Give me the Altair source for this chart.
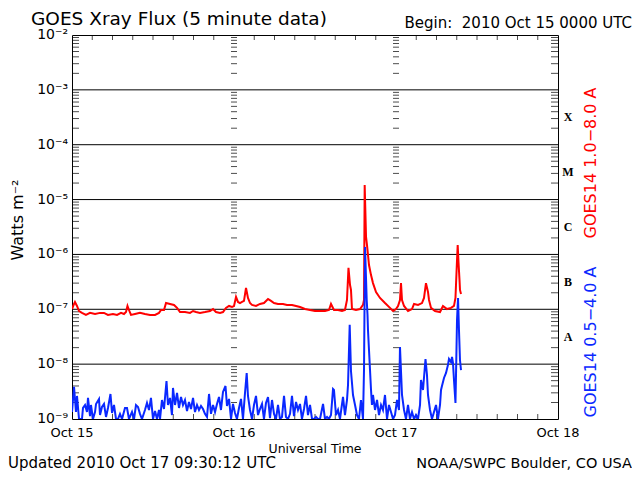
import altair as alt
import pandas as pd

# ---------------- data (hours since 2010 Oct 15 00:00 UTC, W/m^2)
red_hours = [0.00, 0.30, 0.44, 0.74, 1.04, 1.48, 2.07, 2.67, 3.41, 4.15, 4.74, 5.33, 6.07, 6.67,
             7.26, 7.70, 8.00, 8.22, 8.44, 8.74, 9.33, 10.07, 10.81, 11.56, 12.30, 12.89, 13.19,
             13.63, 13.93, 14.52, 15.11, 15.56, 16.00, 16.74, 17.48, 17.93, 18.37, 18.96, 19.70,
             20.44, 20.89, 21.33, 21.93, 22.37, 22.81, 23.26, 23.70, 24.00, 24.30, 24.59, 24.89,
             25.19, 25.48, 25.78, 26.07, 26.37, 26.67, 27.26, 27.85, 28.44, 29.04, 29.48, 29.93,
             30.52, 31.26, 31.85, 32.59, 33.19, 33.78, 34.52, 35.26, 36.00, 36.74, 37.48, 38.07,
             38.37, 38.81, 39.41, 40.00, 40.44, 40.74, 40.96, 41.19, 41.33, 41.48, 42.07, 42.67,
             43.11, 43.26, 43.36, 43.56, 43.70, 43.85, 44.00, 44.30, 44.59, 45.04, 45.63, 46.37,
             47.11, 47.56, 48.00, 48.30, 48.59, 48.74, 48.89, 49.19, 49.78, 50.37, 50.67, 51.26,
             51.85, 52.15, 52.44, 52.74, 52.89, 53.19, 53.78, 54.52, 54.96, 55.56, 56.15, 56.59,
             56.81, 57.04, 57.14, 57.26, 57.41, 57.48, 57.63]
red_flux = [1.01e-7, 1.25e-7, 1.36e-7, 1.15e-7, 9.3e-8, 8.6e-8, 7.9e-8, 8.6e-8, 8.2e-8, 8.6e-8,
            8.6e-8, 7.9e-8, 8.2e-8, 7.9e-8, 8.6e-8, 8.2e-8, 8.9e-8, 1.15e-7, 9.7e-8, 7.9e-8,
            8.2e-8, 8.6e-8, 8.2e-8, 7.9e-8, 7.9e-8, 8.6e-8, 9.7e-8, 9.7e-8, 1.30e-7, 1.25e-7,
            1.20e-7, 1.06e-7, 8.9e-8, 8.9e-8, 8.6e-8, 9.3e-8, 8.9e-8, 8.6e-8, 8.9e-8, 9.3e-8,
            1.01e-7, 8.9e-8, 8.6e-8, 8.9e-8, 1.06e-7, 1.15e-7, 1.10e-7, 1.15e-7, 1.68e-7, 1.36e-7,
            1.30e-7, 1.36e-7, 1.42e-7, 2.45e-7, 1.61e-7, 1.30e-7, 1.20e-7, 1.15e-7, 1.25e-7,
            1.30e-7, 1.54e-7, 1.42e-7, 1.30e-7, 1.25e-7, 1.25e-7, 1.20e-7, 1.20e-7, 1.15e-7,
            1.10e-7, 1.01e-7, 9.7e-8, 9.3e-8, 9.3e-8, 9.3e-8, 9.7e-8, 1.25e-7, 9.7e-8, 9.7e-8,
            9.3e-8, 9.7e-8, 1.48e-7, 5.7e-7, 2.77e-7, 2.25e-7, 1.01e-7, 9.7e-8, 1.01e-7, 1.20e-7,
            1.48e-7, 1.85e-5, 2.1e-6, 1.49e-6, 9.8e-7, 6.4e-7, 4.2e-7, 3.0e-7, 2.07e-7, 1.61e-7,
            1.30e-7, 1.06e-7, 9.3e-8, 1.01e-7, 1.15e-7, 1.48e-7, 3.0e-7, 1.48e-7, 1.15e-7, 9.3e-8,
            1.01e-7, 1.25e-7, 1.20e-7, 1.30e-7, 1.61e-7, 3.0e-7, 2.07e-7, 1.48e-7, 1.06e-7,
            9.3e-8, 8.9e-8, 1.15e-7, 1.01e-7, 1.06e-7, 1.15e-7, 1.61e-7, 7.9e-7, 1.49e-6, 7.2e-7,
            3.4e-7, 2.25e-7, 1.90e-7]

blue_hours = [0.00, 0.30, 0.59, 0.74, 1.04, 1.48, 1.63, 1.93, 2.22, 2.37, 2.67, 2.81, 3.11, 3.41,
              3.56, 4.00, 4.15, 4.44, 4.74, 5.04, 5.33, 5.70, 5.93, 6.22, 6.52, 6.81, 7.11, 7.41,
              7.85, 8.15, 8.44, 8.89, 9.19, 9.48, 9.78, 10.07, 10.37, 10.81, 11.11, 11.41, 11.70,
              12.00, 12.30, 12.59, 12.89, 13.04, 13.33, 13.63, 14.00, 14.22, 14.52, 14.81, 14.96,
              15.26, 15.56, 15.85, 16.15, 16.44, 16.74, 17.04, 17.33, 17.63, 17.93, 18.22, 18.52,
              18.81, 19.11, 19.41, 19.70, 20.00, 20.30, 20.59, 20.89, 21.19, 21.48, 21.78, 22.07,
              22.37, 22.74, 22.96, 23.26, 23.56, 23.85, 24.15, 24.44, 24.74, 25.04, 25.33, 25.63,
              25.88, 26.07, 26.37, 26.67, 26.96, 27.26, 27.56, 27.85, 28.15, 28.44, 28.74, 29.04,
              29.33, 29.63, 29.93, 30.22, 30.52, 30.81, 31.11, 31.41, 31.70, 32.00, 32.30, 32.59,
              32.89, 33.19, 33.48, 33.78, 34.07, 34.37, 34.67, 34.96, 35.26, 35.56, 35.85, 36.15,
              36.44, 36.74, 37.19, 37.48, 37.78, 38.07, 38.37, 38.67, 38.81, 39.11, 39.41, 39.70,
              40.15, 40.44, 40.74, 40.89, 41.14, 41.33, 41.63, 41.93, 42.22, 42.52, 42.81, 43.11,
              43.26, 43.41, 43.66, 43.78, 43.85, 44.00, 44.15, 44.30, 44.44, 44.59, 44.89, 45.19,
              45.48, 45.78, 46.07, 46.37, 46.67, 46.96, 47.26, 47.56, 47.85, 48.15, 48.44, 48.59,
              48.89, 49.19, 49.48, 49.78, 50.07, 50.37, 50.67, 50.96, 51.26, 51.56, 51.70, 52.00,
              52.37, 52.59, 52.74, 53.04, 53.33, 53.63, 53.93, 54.22, 54.52, 54.67, 54.81, 55.11,
              55.41, 55.70, 55.85, 56.15, 56.30, 56.44, 56.59, 56.81, 56.89, 57.04, 57.19, 57.33,
              57.48, 57.63]
blue_flux = [1.34e-9, 3.84e-9, 1.34e-9, 2.63e-9, 1.0e-9, 1.0e-9, 1.59e-9, 1.80e-9, 1.34e-9, 2.42e-9,
             1.13e-9, 1.80e-9, 1.0e-9, 1.34e-9, 1.88e-9, 2.32e-9, 1.18e-9, 1.66e-9, 1.88e-9, 1.09e-9,
             1.59e-9, 2.86e-9, 1.29e-9, 1.80e-9, 1.0e-9, 1.0e-9, 1.24e-9, 1.0e-9, 1.59e-9, 1.59e-9,
             1.0e-9, 1.34e-9, 1.0e-9, 1.80e-9, 1.66e-9, 1.24e-9, 1.0e-9, 1.46e-9, 1.96e-9, 1.46e-9,
             2.42e-9, 1.0e-9, 1.40e-9, 1.0e-9, 1.46e-9, 1.0e-9, 2.22e-9, 1.52e-9, 4.93e-9, 1.80e-9,
             2.42e-9, 1.18e-9, 3.68e-9, 1.80e-9, 2.98e-9, 1.59e-9, 2.52e-9, 1.80e-9, 2.22e-9, 1.40e-9,
             2.04e-9, 1.52e-9, 2.42e-9, 1.34e-9, 1.80e-9, 1.46e-9, 1.73e-9, 1.52e-9, 1.24e-9, 1.09e-9,
             2.86e-9, 1.24e-9, 1.80e-9, 1.34e-9, 1.88e-9, 2.52e-9, 1.46e-9, 3.11e-9, 4.0e-9, 1.73e-9,
             2.32e-9, 1.0e-9, 1.88e-9, 1.29e-9, 1.0e-9, 1.59e-9, 2.32e-9, 1.0e-9, 2.98e-9, 6.9e-9,
             2.63e-9, 1.46e-9, 1.0e-9, 1.80e-9, 2.63e-9, 1.18e-9, 1.52e-9, 1.88e-9, 1.0e-9, 1.96e-9,
             2.52e-9, 1.04e-9, 2.22e-9, 1.24e-9, 1.0e-9, 1.80e-9, 1.0e-9, 1.09e-9, 2.63e-9, 1.09e-9,
             1.0e-9, 1.24e-9, 2.63e-9, 1.13e-9, 2.04e-9, 1.46e-9, 1.88e-9, 1.0e-9, 1.52e-9, 2.63e-9,
             1.18e-9, 1.80e-9, 1.0e-9, 1.0e-9, 1.09e-9, 1.0e-9, 1.0e-9, 1.88e-9, 1.0e-9, 1.09e-9,
             1.0e-9, 1.18e-9, 3.52e-9, 3.38e-9, 1.18e-9, 1.46e-9, 1.0e-9, 2.52e-9, 1.18e-9, 2.22e-9,
             4.17e-9, 5.2e-8, 7.5e-9, 2.74e-9, 1.80e-9, 1.18e-9, 1.0e-9, 2.22e-9, 1.0e-9, 7.8e-9,
             1.37e-6, 1.48e-7, 7.9e-8, 4.2e-8, 1.81e-8, 7.8e-9, 3.38e-9, 1.80e-9, 2.74e-9, 1.46e-9,
             2.22e-9, 1.18e-9, 1.80e-9, 1.46e-9, 2.74e-9, 1.0e-9, 1.80e-9, 1.34e-9, 1.0e-9, 1.18e-9,
             2.22e-9, 1.46e-9, 2.06e-8, 2.74e-9, 1.46e-9, 1.0e-9, 1.80e-9, 1.0e-9, 1.34e-9, 1.0e-9,
             1.18e-9, 1.0e-9, 1.80e-9, 5.14e-9, 3.38e-9, 1.24e-8, 6.34e-9, 2.74e-9, 1.46e-9, 1.0e-9,
             1.34e-9, 1.80e-9, 1.0e-9, 1.80e-9, 3.38e-9, 4.0e-9, 5.6e-9, 6.9e-9, 9.7e-9, 1.24e-8,
             1.09e-8, 1.35e-8, 1.05e-8, 5.14e-9, 1.96e-9, 6.34e-9, 6.4e-8, 1.61e-7, 4.2e-8, 1.19e-8,
             7.8e-9]

decade_values = [1e-9, 1e-8, 1e-7, 1e-6, 1e-5, 1e-4, 1e-3, 1e-2]
decade_labels = ["10⁻⁹", "10⁻⁸", "10⁻⁷", "10⁻⁶", "10⁻⁵", "10⁻⁴", "10⁻³", "10⁻²"]
grid_values = [1e-8, 1e-7, 1e-6, 1e-5, 1e-4, 1e-3]
minor_values = [m * 10.0 ** k for k in range(-9, -2) for m in range(2, 10)]
day_hours = [0, 24, 48, 72]
day_labels = ["Oct 15", "Oct 16", "Oct 17", "Oct 18"]
inner_day_hours = [24, 48]
hour_ticks = [h for h in range(3, 72, 3) if h % 24 != 0]
class_values = [3.16e-4, 3.16e-5, 3.16e-6, 3.16e-7, 3.16e-8]
class_labels = ["X", "M", "C", "B", "A"]

W, H = 486, 384
FONT = "DejaVu Sans"
RED = "#ff0000"
BLUE = "#0a28ff"

xs = alt.Scale(domain=[0, 72], nice=False, zero=False)
ys = alt.Scale(type="log", domain=[1e-9, 1e-2], nice=False)


def xd(v):
    return alt.XDatum(v, type="quantitative", scale=xs, axis=None)


def yd(v):
    return alt.YDatum(v, type="quantitative", scale=ys, axis=None)


red_df = pd.DataFrame({"h": red_hours, "f": red_flux})
blue_df = pd.DataFrame({"h": blue_hours, "f": blue_flux})
minor_df = pd.DataFrame({"v": minor_values})
grid_df = pd.DataFrame({"v": grid_values})
dec_df = pd.DataFrame({"v": decade_values, "lab": decade_labels})
day_df = pd.DataFrame({"h": day_hours, "lab": day_labels})
dayline_df = pd.DataFrame([(d, v) for d in inner_day_hours for v in minor_values], columns=["h", "v"])
hour_df = pd.DataFrame({"h": hour_ticks})
class_df = pd.DataFrame({"v": class_values, "lab": class_labels})

Y = lambda f: alt.Y(f, type="quantitative", scale=ys, axis=None)
X = lambda f: alt.X(f, type="quantitative", scale=xs, axis=None)

grid = alt.Chart(grid_df).mark_rule(color="black", strokeWidth=1).encode(y=Y("v"))

left_ticks = alt.Chart(minor_df).mark_tick(orient="horizontal", size=7, thickness=1, color="black",
                                           xOffset=3.5).encode(x=xd(0), y=Y("v"))
right_ticks = alt.Chart(minor_df).mark_tick(orient="horizontal", size=7, thickness=1, color="black",
                                            xOffset=-3.5).encode(x=xd(72), y=Y("v"))
day_ticks = alt.Chart(dayline_df).mark_tick(orient="horizontal", size=6, thickness=1,
                                            color="black").encode(x=X("h"), y=Y("v"))
top_ticks = alt.Chart(hour_df).mark_tick(orient="vertical", size=5, thickness=1, color="black",
                                         yOffset=2.5).encode(x=X("h"), y=yd(1e-2))
bottom_ticks = alt.Chart(hour_df).mark_tick(orient="vertical", size=5, thickness=1, color="black",
                                            yOffset=-2.5).encode(x=X("h"), y=yd(1e-9))

red_line = alt.Chart(red_df).mark_line(color=RED, strokeWidth=2, clip=True).encode(
    x=X("h"), y=Y("f"), order="h:Q")
blue_line = alt.Chart(blue_df).mark_line(color=BLUE, strokeWidth=2, clip=True).encode(
    x=X("h"), y=Y("f"), order="h:Q")

ylabels = alt.Chart(dec_df).mark_text(align="right", baseline="middle", font=FONT, fontSize=14,
                                      color="black").encode(x=alt.value(-4), y=Y("v"), text="lab:N")
xlabels = alt.Chart(day_df).mark_text(align="center", baseline="middle", font=FONT, fontSize=13,
                                      color="black").encode(x=X("h"), y=alt.value(H + 14), text="lab:N")
class_text = alt.Chart(class_df).mark_text(align="center", baseline="middle", font="Liberation Serif",
                                           fontWeight="bold", fontSize=12, color="black").encode(
    x=alt.value(W + 10), y=Y("v"), text="lab:N")


def label(txt, x, y, size, color="black", align="left", baseline="alphabetic", angle=0):
    return alt.Chart(pd.DataFrame({"t": [txt]})).mark_text(
        align=align, baseline=baseline, font=FONT, fontSize=size, color=color, angle=angle
    ).encode(x=alt.value(x), y=alt.value(y), text="t:N")


texts = [
    label("GOES Xray Flux (5 minute data)", -41, -10, 18.5),
    label("Begin:\u00a0 2010 Oct 15 0000 UTC", 560, -7, 15, align="right"),
    label("Watts m⁻²", -54, 185, 16, align="center", baseline="middle", angle=270),
    label("GOES14 1.0−8.0 A", W + 33, 128, 16, color=RED, align="center", baseline="middle", angle=270),
    label("GOES14 0.5−4.0 A", W + 33, 307, 16, color=BLUE, align="center", baseline="middle", angle=270),
    label("Universal Time", W / 2, H + 30, 12.5, align="center", baseline="middle"),
    label("Updated 2010 Oct 17 09:30:12 UTC", -64, H + 49, 15),
    label("NOAA/SWPC Boulder, CO USA", W + 74, H + 49, 14.5, align="right"),
]

chart = alt.layer(
    grid, left_ticks, right_ticks, day_ticks, top_ticks, bottom_ticks,
    red_line, blue_line, ylabels, xlabels, class_text, *texts
).properties(
    width=W, height=H,
    padding={"left": 64, "top": 27, "right": 74, "bottom": 53},
    autosize=alt.AutoSizeParams(type="none"),
    background="white",
).configure_view(stroke="black", strokeWidth=1)

chart.save("out.html", embed_options={"renderer": "svg", "actions": False})
